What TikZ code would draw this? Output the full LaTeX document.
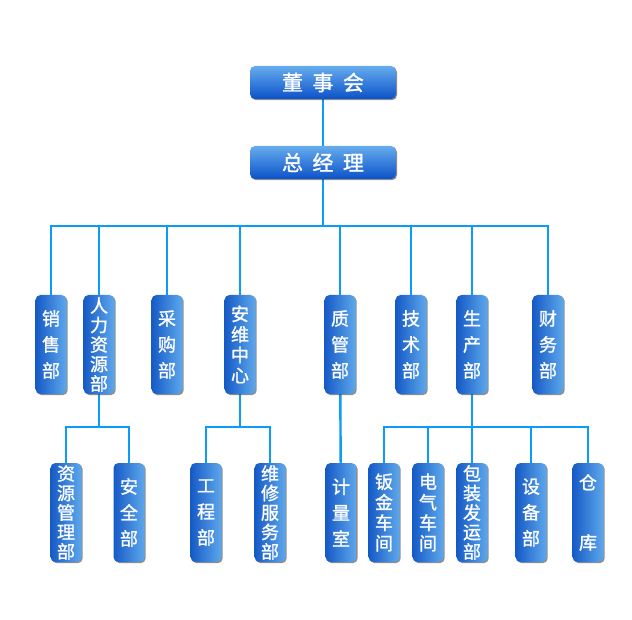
\documentclass[tikz,border=0pt]{standalone}
\usepackage{fontspec}
\newfontfamily\cjk{Noto Sans CJK SC}[FakeBold=1.2]
\usetikzlibrary{shadows,backgrounds}
\definecolor{boxDark}  {HTML}{165AC6}
\definecolor{boxLight} {HTML}{5EA8EC}
\definecolor{topLight} {HTML}{66ACEE}
\definecolor{topDark}  {HTML}{0B52C8}
\definecolor{linkBlue} {HTML}{0A9CF8}
\tikzset{
  link/.style={draw=linkBlue,line width=2.4pt},
  head/.style={rectangle,rounded corners=5pt,top color=topLight,bottom color=topDark,draw=none,
    minimum width=146pt,minimum height=33pt,inner sep=0pt,text=white,
    drop shadow={shadow xshift=1pt,shadow yshift=-1.2pt,opacity=.55,fill=black!80},
    font=\cjk\fontsize{21pt}{25pt}\selectfont},
  dept/.style={rectangle,rounded corners=5pt,left color=boxDark,right color=boxLight,draw=none,
    minimum width=31pt,minimum height=99pt,inner sep=0pt,text=white,align=center,
    drop shadow={shadow xshift=1.2pt,shadow yshift=-1.2pt,opacity=.55,fill=black!80},
    font=\cjk\fontsize{18pt}{26pt}\selectfont},
  deptfour/.style={dept,font=\cjk\fontsize{18pt}{20.5pt}\selectfont},
  deptfive/.style={dept,font=\cjk\fontsize{18pt}{19.5pt}\selectfont},
}
\begin{document}
\begin{tikzpicture}[x=1pt,y=-1pt]
\useasboundingbox (0,0) rectangle (632,620);

% top
\node[head] (board) at (323,82.5)  {董\hspace{.45em}事\hspace{.45em}会};
\node[head] (gm)    at (323,162.5) {总\hspace{.45em}经\hspace{.45em}理};

% departments
\node[dept]     (sales)    at (51,344.5)  {销\\售\\部};
\node[deptfive] (hr)       at (99,344.5)  {人\\力\\资\\源\\部};
\node[dept]     (purchase) at (167,344.5) {采\\购\\部};
\node[deptfour] (secmaint) at (240,344.5) {安\\维\\中\\心};
\node[dept]     (quality)  at (340,344.5) {质\\管\\部};
\node[dept]     (tech)     at (411,344.5) {技\\术\\部};
\node[dept]     (prod)     at (472,344.5) {生\\产\\部};
\node[dept]     (finance)  at (548,344.5) {财\\务\\部};

% sub units
\node[deptfive] (resmgmt) at (66,512.5)  {资\\源\\管\\理\\部};
\node[dept]     (safety)  at (129,512.5) {安\\全\\部};
\node[dept]     (eng)     at (206,512.5) {工\\程\\部};
\node[deptfive] (repair)  at (270,512.5) {维\\修\\服\\务\\部};
\node[dept]     (meter)   at (341,512.5) {计\\量\\室};
\node[deptfour] (sheet)   at (384,512.5) {钣\\金\\车\\间};
\node[deptfour] (elec)    at (428,512.5) {电\\气\\车\\间};
\node[deptfive] (pack)    at (472,512.5) {包\\装\\发\\运\\部};
\node[dept]     (equip)   at (531,512.5) {设\\备\\部};
\node[dept]     (store)   at (588,512.5) {仓\\[34pt]库};

\coordinate (bus)     at (323,226);
\coordinate (hrbus)   at (99,427);
\coordinate (secbus)  at (240,427);
\coordinate (prodbus) at (472,427);

\begin{pgfonlayer}{background}
\fill[white] (0,0) rectangle (632,620);
\draw[link] (board) -- (gm);
\draw[link] (gm) -- (bus);
\foreach \d in {sales,hr,purchase,secmaint,quality,tech,prod,finance}
  \draw[link] (bus) -| (\d);
\draw[link] (hr) -- (hrbus);
\foreach \d in {resmgmt,safety}
  \draw[link] (hrbus) -| (\d);
\draw[link] (secmaint) -- (secbus);
\foreach \d in {eng,repair}
  \draw[link] (secbus) -| (\d);
\draw[link] (quality) -- (meter);
\draw[link] (prod) -- (prodbus);
\foreach \d in {sheet,elec,pack,equip,store}
  \draw[link] (prodbus) -| (\d);
\end{pgfonlayer}
\end{tikzpicture}
\end{document}
